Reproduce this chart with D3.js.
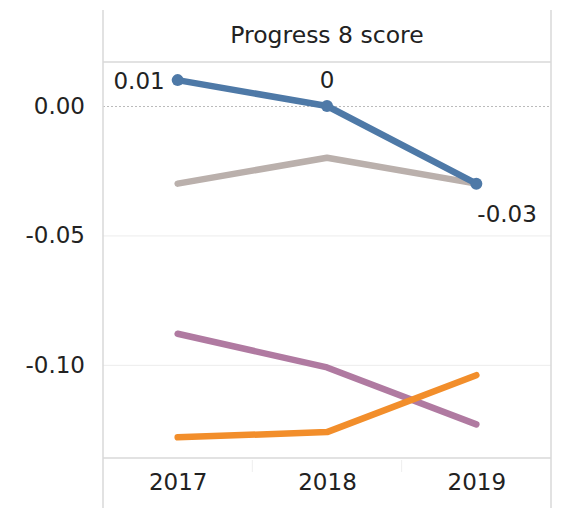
<!DOCTYPE html>
<html>
<head>
<meta charset="utf-8">
<script src="https://cdn.jsdelivr.net/npm/d3@7"></script>
<style>
  body { margin: 0; background: #fff; }
  text { font-family: "DejaVu Sans", sans-serif; fill: #222; }
</style>
</head>
<body>
<div id="chart"></div>
<script>
const width = 562;
const height = 508;

// data
const years = ['2017', '2018', '2019'];
const blue_values = [0.01, 0, -0.03];
const grey_values = [-0.03, -0.02, -0.03];
const purple_values = [-0.088, -0.101, -0.123];
const orange_values = [-0.128, -0.126, -0.104];
const y_ticks = [0, -0.05, -0.10];
const blue_labels = ['0.01', '0', '-0.03'];
const title = 'Progress 8 score';

const series = [
    { name: 'grey', values: grey_values, color: '#bab0ac' },
    { name: 'purple', values: purple_values, color: '#b07aa1' },
    { name: 'orange', values: orange_values, color: '#f28e2b' },
    { name: 'blue', values: blue_values, color: '#4e79a7' }
];

// plot frame
const left = 103, right = 551;
const top_line = 10, header_bottom = 62, axis_y = 458;
const font_size = '23px';

const svg = d3.select('#chart').append('svg')
    .attr('width', width)
    .attr('height', height);

const x = d3.scalePoint()
    .domain(years)
    .range([left, right])
    .padding(0.5);

const y = d3.scaleLinear()
    .domain([-0.136, 0.017])
    .range([axis_y, header_bottom]);

// gridlines
svg.selectAll('.grid')
    .data(y_ticks)
    .enter()
    .append('line')
    .attr('x1', left).attr('x2', right)
    .attr('y1', d => y(d) + 0.5).attr('y2', d => y(d) + 0.5)
    .attr('stroke', d => d === 0 ? '#bbb' : '#ececec')
    .attr('stroke-width', 1)
    .attr('stroke-dasharray', d => d === 0 ? '2,2' : null);

// y axis labels
const yAxis = d3.axisLeft(y).tickValues(y_ticks).tickSize(0).tickPadding(18);
const gy = svg.append('g').attr('transform', `translate(${left},0)`).call(yAxis);
gy.select('.domain').remove();
gy.selectAll('text')
    .style('font-size', font_size)
    .attr('fill', '#222')
    .text(d => d3.format('.2f')(d).replace('−', '-'));

// frame lines
const frame = svg.append('g').attr('stroke', '#d9d9d9').attr('stroke-width', 1.5);
frame.append('line').attr('x1', left).attr('x2', left).attr('y1', top_line).attr('y2', height);
frame.append('line').attr('x1', right).attr('x2', right).attr('y1', top_line).attr('y2', height);
frame.append('line').attr('x1', left).attr('x2', right).attr('y1', header_bottom).attr('y2', header_bottom);
frame.append('line').attr('x1', left).attr('x2', right).attr('y1', axis_y).attr('y2', axis_y);

// x axis
const xAxis = d3.axisBottom(x).tickSize(0).tickPadding(16);
const gx = svg.append('g').attr('transform', `translate(0,${axis_y})`).call(xAxis);
gx.select('.domain').remove();
gx.selectAll('text').style('font-size', font_size).attr('fill', '#222');

// small dividers between years under the axis
const step = x.step();
svg.selectAll('.divider')
    .data(years.slice(1))
    .enter()
    .append('line')
    .attr('x1', d => x(d) - step / 2).attr('x2', d => x(d) - step / 2)
    .attr('y1', axis_y + 2).attr('y2', axis_y + 14)
    .attr('stroke', '#eee');

// title
svg.append('text')
    .attr('x', (left + right) / 2)
    .attr('y', 43)
    .attr('text-anchor', 'middle')
    .style('font-size', '23.5px')
    .text(title);

// lines
const line = d3.line()
    .x((d, i) => x(years[i]))
    .y(d => y(d));

svg.selectAll('.series')
    .data(series)
    .enter()
    .append('path')
    .attr('d', d => line(d.values))
    .attr('fill', 'none')
    .attr('stroke', d => d.color)
    .attr('stroke-width', 6.5)
    .attr('stroke-linecap', 'round')
    .attr('stroke-linejoin', 'round');

// blue markers
svg.selectAll('.dot')
    .data(blue_values)
    .enter()
    .append('circle')
    .attr('cx', (d, i) => x(years[i]))
    .attr('cy', d => y(d))
    .attr('r', 6)
    .attr('fill', '#4e79a7');

// blue value labels
const label_pos = [
    { dx: -13, dy: 9, anchor: 'end' },
    { dx: 0, dy: -18, anchor: 'middle' },
    { dx: 1, dy: 38, anchor: 'start' }
];
svg.selectAll('.vlabel')
    .data(blue_values)
    .enter()
    .append('text')
    .attr('x', (d, i) => x(years[i]) + label_pos[i].dx)
    .attr('y', (d, i) => y(d) + label_pos[i].dy)
    .attr('text-anchor', (d, i) => label_pos[i].anchor)
    .style('font-size', font_size)
    .text((d, i) => blue_labels[i]);
</script>
</body>
</html>
